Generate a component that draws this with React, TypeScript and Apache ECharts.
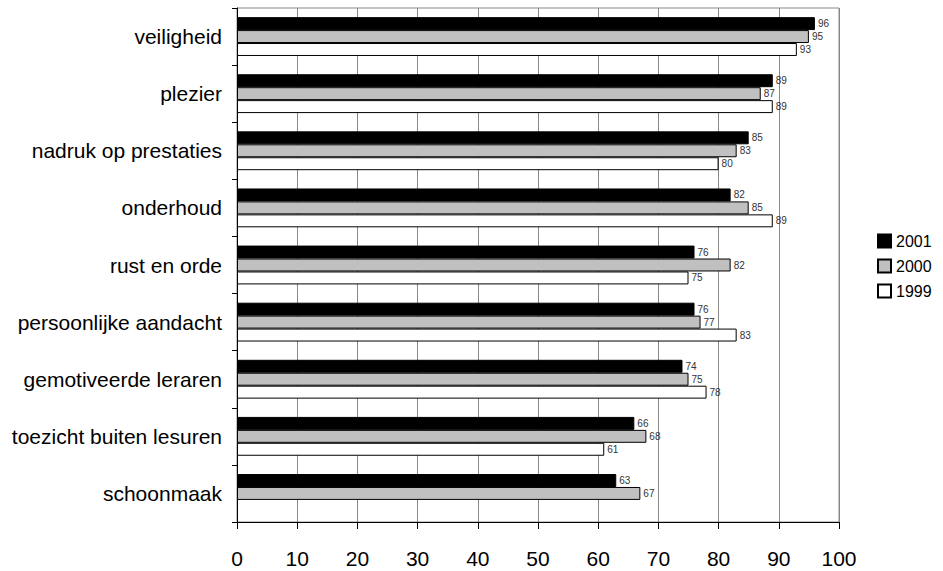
import React, { useEffect, useRef } from "react";
import * as echarts from "echarts";

const categories = [
  "veiligheid",
  "plezier",
  "nadruk op prestaties",
  "onderhoud",
  "rust en orde",
  "persoonlijke aandacht",
  "gemotiveerde leraren",
  "toezicht buiten lesuren",
  "schoonmaak",
];
const values2001 = [96, 89, 85, 82, 76, 76, 74, 66, 63];
const values2000 = [95, 87, 83, 85, 82, 77, 75, 68, 67];
const values1999: (number | null)[] = [93, 89, 80, 89, 75, 83, 78, 61, null];
const xTicks = [0, 10, 20, 30, 40, 50, 60, 70, 80, 90, 100];

const FONT = "'Liberation Sans', Arial, sans-serif";

export default function App() {
  const ref = useRef<HTMLDivElement>(null);
  useEffect(() => {
    if (!ref.current) return;
    const chart = echarts.init(ref.current, undefined, { renderer: "svg" });
    const label = {
      show: true,
      position: "right",
      distance: 3,
      fontSize: 10,
      color: "#333",
      fontFamily: FONT,
    };
    const mk = (name: string, data: (number | null)[], color: string) => ({
      name,
      type: "bar",
      data,
      barGap: "0%",
      barCategoryGap: "32%",
      itemStyle: { color, borderColor: "#000", borderWidth: 1 },
      label,
    });
    chart.setOption({
      animation: false,
      textStyle: { fontFamily: FONT },
      grid: {
        left: 237,
        right: 104,
        top: 8,
        bottom: 49,
        show: true,
        borderColor: "#888",
        borderWidth: 1,
        containLabel: false,
      },
      legend: {
        orient: "vertical",
        left: 872,
        top: 228,
        itemWidth: 13,
        itemHeight: 13,
        itemGap: 9,
        icon: "rect",
        textStyle: { fontSize: 16, color: "#000", fontFamily: FONT },
        data: ["2001", "2000", "1999"],
      },
      xAxis: {
        type: "value",
        min: xTicks[0],
        max: xTicks[xTicks.length - 1],
        interval: 10,
        axisLine: { show: true, lineStyle: { color: "#000", width: 1 } },
        axisTick: { show: true, length: 7, lineStyle: { color: "#000" } },
        axisLabel: { fontSize: 21, color: "#000", margin: 26, fontFamily: FONT },
        splitLine: { show: true, lineStyle: { color: "#888", width: 1 } },
      },
      yAxis: {
        type: "category",
        data: categories,
        inverse: true,
        axisLine: { show: true, lineStyle: { color: "#000", width: 1 } },
        axisTick: { show: true, length: 5, lineStyle: { color: "#000" } },
        axisLabel: { fontSize: 21, color: "#000", margin: 15, fontFamily: FONT },
        splitLine: { show: false },
      },
      series: [
        mk("2001", values2001, "#000000"),
        mk("2000", values2000, "#c0c0c0"),
        mk("1999", values1999, "#ffffff"),
      ],
    });
    return () => chart.dispose();
  }, []);
  return (
    <div
      ref={ref}
      style={{ position: "absolute", left: 0, top: 0, width: 943, height: 571 }}
    />
  );
}
